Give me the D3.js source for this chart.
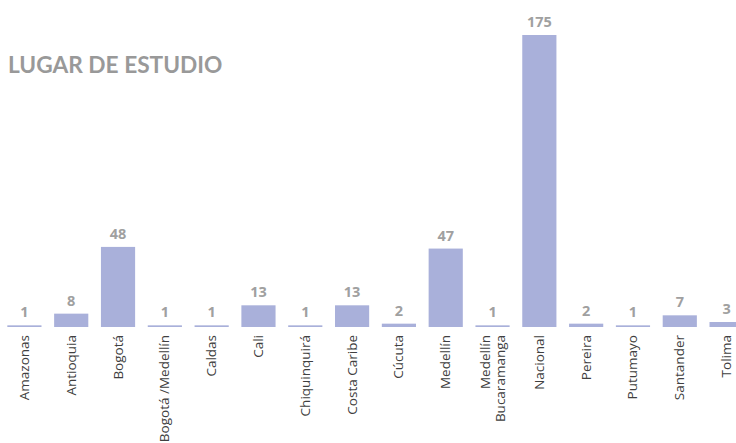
<!DOCTYPE html>
<html><head><meta charset="utf-8">
<script src="https://cdn.jsdelivr.net/npm/d3@7"></script>
<style>body{margin:0;background:#fff}svg{display:block}</style>
</head><body><svg id="c" width="736" height="443"></svg>
<script>
const categories = ["Amazonas","Antioquia","Bogotá","Bogotá /Medellín","Caldas","Cali","Chiquinquirá","Costa Caribe","Cúcuta","Medellín","Medellín\nBucaramanga","Nacional","Pereira","Putumayo","Santander","Tolima"];
const values = [1,8,48,1,1,13,1,13,2,47,1,175,2,1,7,3];
const title = "LUGAR DE ESTUDIO";

const svg = d3.select("#c");
const x = d3.scaleBand().domain(categories).range([1, 750]).paddingInner(0.27).paddingOuter(0.135);
const y = d3.scaleLinear().domain([0, 175]).range([327, 35]);

svg.append("text").attr("x", 8).attr("y", 73).text(title)
  .attr("font-family", "Lato, 'Open Sans', sans-serif").attr("font-weight", "bold")
  .attr("font-size", 22.7).attr("fill", "#999999");

const data = categories.map((c, i) => ({c, v: values[i]}));
svg.selectAll("rect.bar").data(data).join("rect").attr("class","bar")
  .attr("x", d => x(d.c)).attr("width", x.bandwidth())
  .attr("y", d => y(d.v)).attr("height", d => y(0) - y(d.v))
  .attr("fill", "#a9b0da");

svg.selectAll("text.val").data(data).join("text").attr("class","val")
  .attr("x", d => x(d.c) + x.bandwidth()/2).attr("y", d => y(d.v) - 8)
  .attr("text-anchor", "middle").attr("font-family", "'Open Sans', sans-serif")
  .attr("font-weight", "bold").attr("font-size", 14.5).attr("fill", "#a0a0a0")
  .text(d => d.v);

const lab = svg.selectAll("g.lab").data(data).join("g").attr("class","lab")
  .attr("transform", d => `translate(${x(d.c) + x.bandwidth()/2},335) rotate(-90)`);
lab.each(function(d){
  const lines = d.c.split("\n");
  const g = d3.select(this);
  const n = lines.length;
  lines.forEach((l, i) => {
    g.append("text").attr("x", 0).attr("y", 4.5 + (i - (n-1)/2) * 15)
      .attr("text-anchor", "end").attr("font-family", "'Open Sans', sans-serif")
      .attr("font-size", 13.5).attr("fill", "#404040").text(l);
  });
});
</script></body></html>
